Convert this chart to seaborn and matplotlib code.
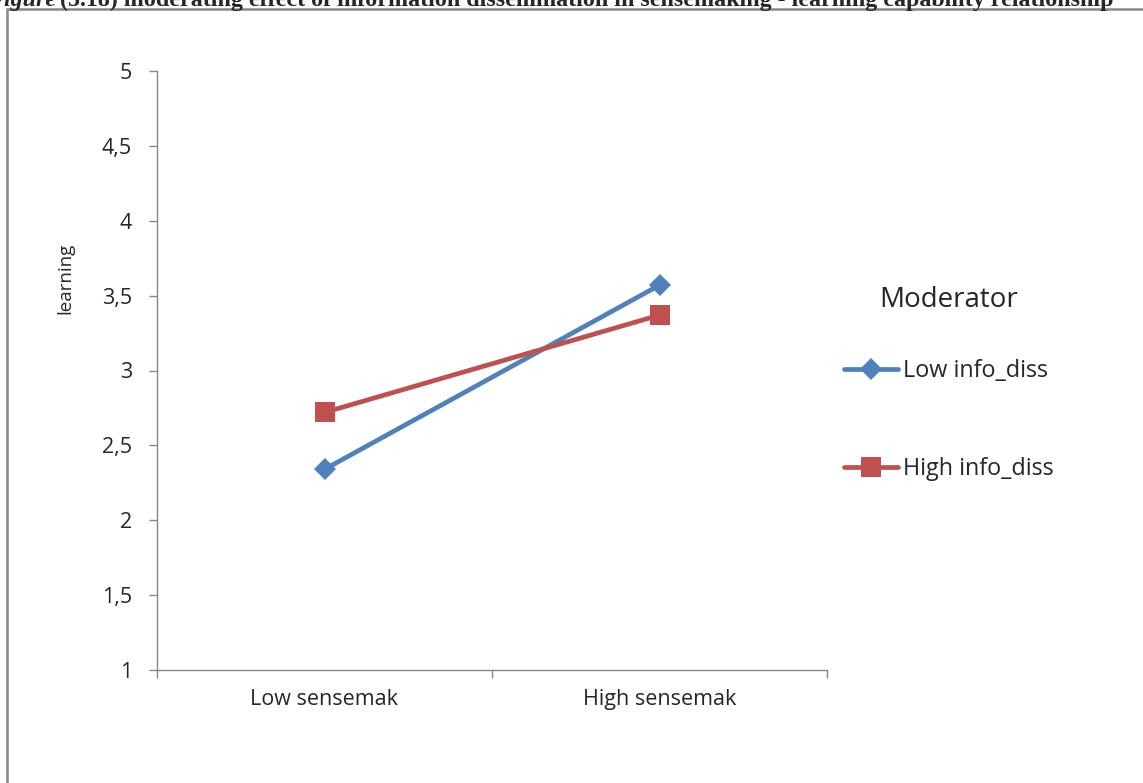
import matplotlib
matplotlib.use("Agg")
import matplotlib.pyplot as plt
import matplotlib.patches as mpatches
from matplotlib.ticker import FuncFormatter
import seaborn as sns
import pandas as pd

categories = ["Low sensemak", "High sensemak"]
low_info = [2.34, 3.57]
high_info = [2.72, 3.37]
series_names = ["Low info_diss", "High info_diss"]
yticks = [1, 1.5, 2, 2.5, 3, 3.5, 4, 4.5, 5]

sns.set_theme(style="white")
plt.rcParams['font.family'] = ['Open Sans', 'DejaVu Sans']

df = pd.DataFrame({
    "x": list(range(len(categories))) * 2,
    "learning": low_info + high_info,
    "Moderator": [series_names[0]] * 2 + [series_names[1]] * 2,
})

fig = plt.figure(figsize=(11.43, 7.83), dpi=100)
ax = fig.add_axes([157/1143, 1-670/783, (827-157)/1143, (670-71)/783])

palette = {series_names[0]: "#4F81BD", series_names[1]: "#C0504D"}
markers = {series_names[0]: "D", series_names[1]: "s"}
sns.lineplot(data=df, x="x", y="learning", hue="Moderator", style="Moderator",
             palette=palette, markers=markers, dashes=False, linewidth=3.4,
             markersize=10, markeredgewidth=0, ax=ax, legend=True)
for line in ax.lines:
    if line.get_marker() == "s":
        line.set_markersize(14)
    elif line.get_marker() == "D":
        line.set_markersize(11)

ax.set_xlim(-0.5, 1.5)
ax.set_ylim(1, 5)
ax.set_xticks([0, 1])
ax.set_xticklabels(categories)
ax.set_xticks([-0.5, 0.5, 1.5], minor=True)
ax.set_yticks(yticks)
ax.yaxis.set_major_formatter(FuncFormatter(lambda v, p: (f"{v:g}").replace(".", ",")))
ax.tick_params(axis="x", which="major", length=0, labelsize=15.5, pad=14)
ax.tick_params(axis="x", which="minor", length=6, width=1, color="#868686", bottom=True, direction="out")
ax.tick_params(axis="y", length=6, width=1, color="#868686", left=True, direction="out", labelsize=15.5, pad=12)
ax.set_xlabel("")
ax.set_ylabel("learning", fontsize=13.5)
ax.yaxis.set_label_coords(-0.123, 0.654)
for s in ["top", "right"]:
    ax.spines[s].set_visible(False)
for s in ["left", "bottom"]:
    ax.spines[s].set_color("#868686")
    ax.spines[s].set_linewidth(1)

h, l = ax.get_legend_handles_labels()
leg = ax.legend(h, l, title="Moderator", loc="upper left", bbox_to_anchor=(1.012, 0.656),
                frameon=False, fontsize=16.8, title_fontsize=20, labelspacing=3.17,
                handlelength=2.3, handletextpad=0.2, borderaxespad=0)
leg._legend_box.sep = 32
for line in leg.get_lines():
    line.set_linewidth(3.4)

# outer border
rect = mpatches.Rectangle((7/1143, -0.1), 1.2, 1 - 9/783 + 0.1, transform=fig.transFigure,
                          fill=False, edgecolor="#888888", linewidth=1.8, clip_on=False)
fig.patches.append(rect)

# clipped caption at top
fig.canvas.draw()
t1 = fig.text(-12/1143, 1 - 6/783, "Figure", fontfamily="Liberation Serif", fontweight="bold",
              fontstyle="italic", fontsize=17.3, va="baseline", ha="left")
fig.canvas.draw()
bb = t1.get_window_extent()
fig.text(bb.x1/1143 + 4/1143, 1 - 6/783,
         "(5.18) moderating effect of information dissemination in sensemaking - learning capability relationship",
         fontfamily="Liberation Serif", fontweight="bold", fontsize=17.3, va="baseline", ha="left")

fig.savefig("out.png", dpi=100)
